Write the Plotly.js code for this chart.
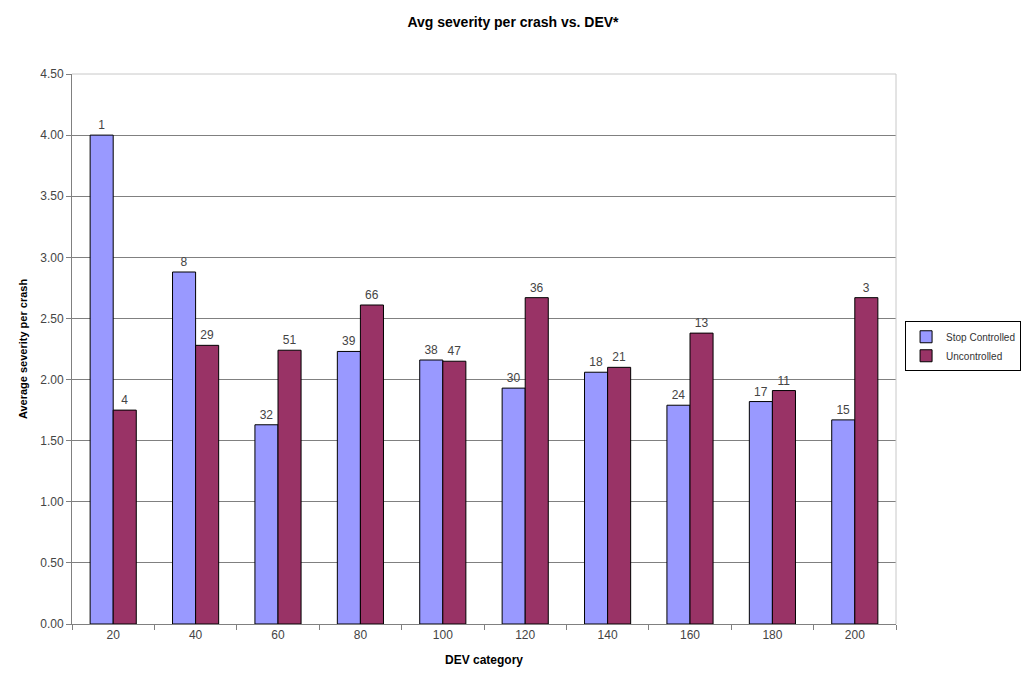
<!DOCTYPE html>
<html>
<head>
<meta charset="utf-8">
<script src="https://cdn.plot.ly/plotly-3.0.1.min.js"></script>
<style>html,body{margin:0;padding:0;background:#fff;}#chart{width:1026px;height:684px;}</style>
</head>
<body>
<div id="chart"></div>
<script>
const categories = ["20","40","60","80","100","120","140","160","180","200"];
const stopControlled = [4.00, 2.88, 1.63, 2.23, 2.16, 1.93, 2.06, 1.79, 1.82, 1.67];
const uncontrolled = [1.75, 2.28, 2.24, 2.61, 2.15, 2.67, 2.10, 2.38, 1.91, 2.67];
const stopCounts = [1, 8, 32, 39, 38, 30, 18, 24, 17, 15];
const uncCounts = [4, 29, 51, 66, 47, 36, 21, 13, 11, 3];

const FONT = 'Liberation Sans, Arial, sans-serif';
const traces = [
  {
    type: 'bar', name: 'Stop Controlled', x: categories, y: stopControlled,
    text: stopCounts.map(String), textposition: 'outside', cliponaxis: false,
    textfont: {family: FONT, size: 12, color: '#444'},
    marker: {color: '#9999FF', line: {color: '#000', width: 1}}
  },
  {
    type: 'bar', name: 'Uncontrolled', x: categories, y: uncontrolled,
    text: uncCounts.map(String), textposition: 'outside', cliponaxis: false,
    textfont: {family: FONT, size: 12, color: '#444'},
    marker: {color: '#993366', line: {color: '#000', width: 1}}
  }
];
const layout = {
  width: 1026, height: 684,
  margin: {l: 72, r: 130, t: 74, b: 60, autoexpand: false},
  paper_bgcolor: '#fff', plot_bgcolor: '#fff',
  font: {family: FONT, size: 12, color: '#444'},
  title: {text: '<b>Avg severity per crash vs. DEV*</b>', x: 0.5, xanchor: 'center', y: 0.975, yanchor: 'top',
          font: {family: FONT, size: 14, color: '#000'}},
  barmode: 'group', bargap: 0.44, bargroupgap: 0,
  xaxis: {
    type: 'category', title: {text: '<b>DEV category</b>', font: {family: FONT, size: 12, color: '#000'}, standoff: 14},
    showline: true, linecolor: '#808080', ticks: 'outside', tickson: 'boundaries',
    ticklen: 5, tickcolor: '#808080', showgrid: false, tickfont: {size: 12, color: '#444'}
  },
  yaxis: {
    range: [0, 4.5], dtick: 0.5, tickformat: '.2f',
    title: {text: '<b>Average severity per crash</b>', font: {family: FONT, size: 11, color: '#000'}, standoff: 10},
    showline: true, linecolor: '#808080', ticks: 'outside', ticklen: 5, tickcolor: '#808080',
    showgrid: true, gridcolor: '#808080', gridwidth: 1, zeroline: false, tickfont: {size: 12, color: '#444'}
  },
  shapes: [
    {type: 'line', xref: 'paper', yref: 'paper', x0: 0, x1: 1, y0: 1, y1: 1, line: {color: '#c8c8c8', width: 1}, layer: 'above'},
    {type: 'line', xref: 'paper', yref: 'paper', x0: 1, x1: 1, y0: 0, y1: 1, line: {color: '#c8c8c8', width: 1}, layer: 'above'}
  ],
  legend: {
    x: 1.011, xanchor: 'left', y: 0.505, yanchor: 'middle',
    bordercolor: '#000', borderwidth: 1, bgcolor: '#fff',
    font: {family: FONT, size: 10, color: '#333'}, itemwidth: 30, tracegroupgap: 2
  },
  showlegend: true
};
Plotly.newPlot('chart', traces, layout, {displayModeBar: false, staticPlot: true});
</script>
</body>
</html>
